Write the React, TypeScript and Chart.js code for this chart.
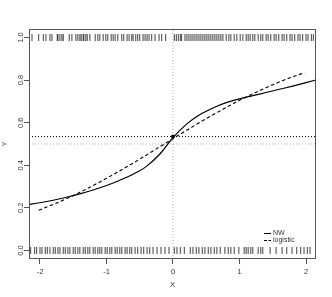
import { useEffect, useRef } from "react";
import { Chart, registerables } from "chart.js";

Chart.register(...registerables);

const xTicks = [-2, -1, 0, 1, 2];
const yTicks = [0, 0.2, 0.4, 0.6, 0.8, 1.0];
const xRange = [-2.165, 2.15];
const yRange = [-0.04, 1.04];

const centerX = 0;
const centerY = 0.535;
const halfLevel = 0.5;

const nwX = [-2.2, -2.0, -1.8, -1.6, -1.4, -1.2, -1.0, -0.8, -0.6, -0.4, -0.2, 0, 0.2, 0.4, 0.6, 0.8, 1.0, 1.2, 1.4, 1.6, 1.8, 2.0, 2.2];
const nwY = [0.214, 0.224, 0.236, 0.25, 0.266, 0.284, 0.305, 0.33, 0.358, 0.395, 0.452, 0.53, 0.592, 0.637, 0.669, 0.694, 0.712, 0.727, 0.742, 0.757, 0.772, 0.788, 0.805];

const logitX = [-2.02, -1.75, -1.5, -1.25, -1.0, -0.75, -0.5, -0.25, 0, 0.25, 0.5, 0.75, 1.0, 1.25, 1.5, 1.75, 1.98];
const logitY = [0.189, 0.223, 0.258, 0.297, 0.339, 0.383, 0.429, 0.477, 0.525, 0.573, 0.619, 0.663, 0.705, 0.743, 0.778, 0.81, 0.835];

// rug positions of observations with Y = 1
const rugOne = [
  -2.12, -2.02, -1.95, -1.91, -1.85, -1.82, -1.74, -1.73, -1.7, -1.67, -1.65, -1.56, -1.52, -1.46, -1.43,
  -1.4, -1.38, -1.35, -1.34, -1.31, -1.29, -1.25, -1.17, -1.13, -1.1, -1.05, -1.01, -0.98, -0.93, -0.9,
  -0.87, -0.83, -0.77, -0.74, -0.69, -0.66, -0.62, -0.6, -0.56, -0.53, -0.5, -0.45, -0.42, -0.39, -0.36,
  -0.32, -0.27, -0.21, -0.17, -0.11, 0.02, 0.05, 0.08, 0.11, 0.13, 0.18, 0.21, 0.24, 0.27, 0.3, 0.33,
  0.36, 0.39, 0.42, 0.45, 0.48, 0.51, 0.54, 0.57, 0.6, 0.63, 0.66, 0.69, 0.72, 0.75, 0.8, 0.84, 0.87,
  0.92, 0.96, 1.01, 1.05, 1.1, 1.13, 1.16, 1.2, 1.23, 1.28, 1.32, 1.35, 1.4, 1.43, 1.47, 1.52, 1.55,
  1.59, 1.64, 1.67, 1.71, 1.76, 1.79, 1.83, 1.88, 1.91, 1.95, 2.0, 2.03, 2.08, 2.11,
];

// rug positions of observations with Y = 0
const rugZero = [
  -2.14, -2.08, -2.05, -2.0, -1.97, -1.92, -1.89, -1.85, -1.8, -1.77, -1.73, -1.7, -1.65, -1.62, -1.58,
  -1.55, -1.5, -1.47, -1.43, -1.4, -1.35, -1.32, -1.28, -1.25, -1.2, -1.17, -1.13, -1.1, -1.07, -1.02,
  -0.99, -0.95, -0.92, -0.87, -0.84, -0.8, -0.77, -0.72, -0.69, -0.65, -0.62, -0.57, -0.53, -0.48, -0.44,
  -0.39, -0.35, -0.3, -0.24, -0.18, -0.12, -0.06, 0.02, 0.06, 0.11, 0.17, 0.26, 0.3, 0.35, 0.39, 0.44,
  0.48, 0.53, 0.57, 0.62, 0.66, 0.71, 0.78, 0.83, 0.87, 0.92, 0.99, 1.07, 1.1, 1.13, 1.17, 1.2, 1.28,
  1.32, 1.35, 1.46, 1.55, 1.64, 1.71, 1.79, 1.86, 1.92, 1.97, 2.02, 2.06,
];

const legendLabels = ["NW", "logistic"];
const legendDashes: number[][] = [[], [3, 1.5]];

const FONT = "'Liberation Sans', Arial, sans-serif";
const TEXT = "#333";
const AXIS = "#555";

const boxPlugin = {
  id: "rbox",
  afterDatasetsDraw(chart: any) {
    const { ctx, chartArea } = chart;
    ctx.save();
    ctx.strokeStyle = AXIS;
    ctx.lineWidth = 1;
    ctx.setLineDash([]);
    ctx.strokeRect(chartArea.left + 0.5, chartArea.top + 0.5, chartArea.right - chartArea.left - 1, chartArea.bottom - chartArea.top - 1);
    // legend
    legendLabels.forEach((t, i) => {
      const y = chartArea.bottom - 26 + i * 7;
      ctx.beginPath();
      ctx.setLineDash(legendDashes[i]);
      ctx.strokeStyle = "#000";
      ctx.lineWidth = 1;
      ctx.moveTo(chartArea.right - 52, y + 0.5);
      ctx.lineTo(chartArea.right - 45, y + 0.5);
      ctx.stroke();
      ctx.setLineDash([]);
      ctx.fillStyle = TEXT;
      ctx.font = `7px ${FONT}`;
      ctx.textBaseline = "middle";
      ctx.textAlign = "left";
      ctx.fillText(t, chartArea.right - 43, y + 0.5);
    });
    ctx.restore();
  },
};

export default function App() {
  const ref = useRef<HTMLCanvasElement>(null);
  useEffect(() => {
    const canvas = ref.current;
    if (!canvas) return;
    const pts = (xs: number[], ys: number[]) => xs.map((x, i) => ({ x, y: ys[i] }));
    const rug = (xs: number[], y: number) => xs.map((x) => ({ x, y }));
    const font = { family: FONT, size: 7.5 };
    const chart = new Chart(canvas, {
      type: "scatter",
      data: {
        datasets: [
          {
            label: "center",
            data: [{ x: centerX, y: centerY }],
            pointRadius: 2,
            pointBackgroundColor: "#000",
            pointBorderWidth: 0,
            showLine: false,
          },
          {
            label: "NW",
            data: pts(nwX, nwY),
            showLine: true,
            borderColor: "#000",
            borderWidth: 1.2,
            pointRadius: 0,
            cubicInterpolationMode: "monotone",
          },
          {
            label: "logistic",
            data: pts(logitX, logitY),
            showLine: true,
            borderColor: "#000",
            borderWidth: 1.1,
            borderDash: [3.5, 2.5],
            pointRadius: 0,
            cubicInterpolationMode: "monotone",
          },
          {
            label: "rug1",
            data: rug(rugOne, 1),
            showLine: false,
            pointStyle: "line",
            pointRotation: 90,
            pointRadius: 3.5,
            pointBorderWidth: 1,
            pointBorderColor: "rgba(0,0,0,0.75)",
          },
          {
            label: "rug0",
            data: rug(rugZero, 0),
            showLine: false,
            pointStyle: "line",
            pointRotation: 90,
            pointRadius: 3.5,
            pointBorderWidth: 1,
            pointBorderColor: "rgba(0,0,0,0.75)",
          },
          {
            label: "hline",
            data: [
              { x: xRange[0], y: centerY },
              { x: xRange[1], y: centerY },
            ],
            showLine: true,
            borderColor: "#000",
            borderWidth: 1,
            borderDash: [1, 2],
            pointRadius: 0,
          },
          {
            label: "half",
            data: [
              { x: xRange[0], y: halfLevel },
              { x: xRange[1], y: halfLevel },
            ],
            showLine: true,
            borderColor: "#aaa",
            borderWidth: 1,
            borderDash: [1, 2],
            pointRadius: 0,
          },
          {
            label: "vline",
            data: [
              { x: centerX, y: yRange[0] },
              { x: centerX, y: yRange[1] },
            ],
            showLine: true,
            borderColor: "#aaa",
            borderWidth: 1,
            borderDash: [1, 2],
            pointRadius: 0,
          },
        ],
      },
      options: {
        responsive: false,
        animation: false,
        events: [],
        layout: { padding: { top: 29, right: 16, left: 0, bottom: 0 } },
        plugins: { legend: { display: false }, tooltip: { enabled: false } },
        scales: {
          x: {
            type: "linear",
            min: xRange[0],
            max: xRange[1],
            afterBuildTicks: (s: any) => {
              s.ticks = xTicks.map((v) => ({ value: v }));
            },
            afterFit: (s: any) => {
              s.height = 38;
            },
            ticks: {
              font,
              color: TEXT,
              padding: 3,
              maxRotation: 0,
              autoSkip: false,
              callback: (v: any) => String(v),
            },
            grid: { drawOnChartArea: false, drawTicks: true, tickLength: 5, color: AXIS },
            border: { display: false },
            title: { display: true, text: "X", font, color: TEXT, padding: { top: 0, bottom: 8 } },
          },
          y: {
            type: "linear",
            min: yRange[0],
            max: yRange[1],
            afterBuildTicks: (s: any) => {
              s.ticks = yTicks.map((v) => ({ value: v }));
            },
            afterFit: (s: any) => {
              s.width = 29;
            },
            ticks: {
              font,
              color: TEXT,
              padding: -2,
              minRotation: 90,
              maxRotation: 90,
              crossAlign: "center",
              autoSkip: false,
              callback: (v: any) => Number(v).toFixed(1),
            },
            grid: { drawOnChartArea: false, drawTicks: true, tickLength: 5, color: AXIS },
            border: { display: false },
            title: { display: true, text: "Y", font, color: TEXT, padding: { top: 0, bottom: 0 } },
          },
        },
      },
      plugins: [boxPlugin],
    } as any);
    return () => chart.destroy();
  }, []);
  return (
    <canvas
      ref={ref}
      width={332}
      height={297}
      style={{ position: "absolute", left: 0, top: 0, display: "block" }}
    />
  );
}
